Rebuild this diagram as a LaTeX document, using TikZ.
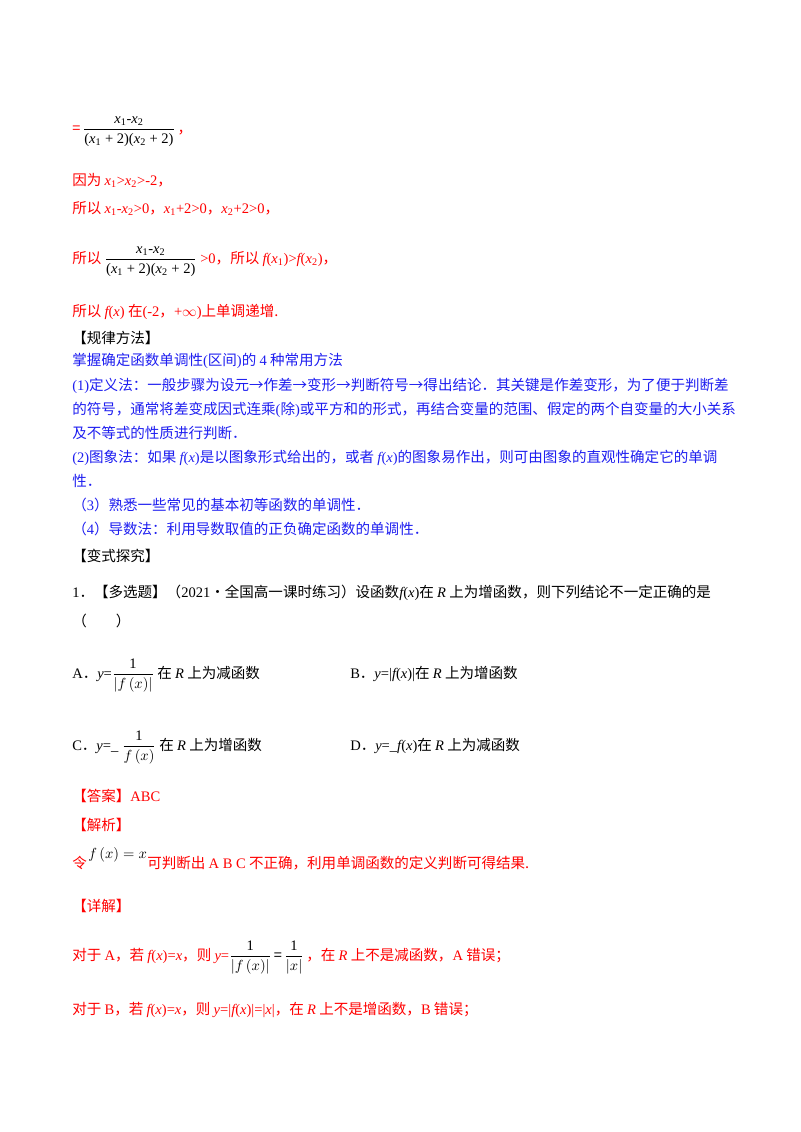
\documentclass[tikz,border=0pt]{standalone}
\usepackage{amsmath}
\usepackage{fontspec}
\setmainfont{Liberation Serif}
\newfontfamily\cjk{Noto Sans CJK SC}
\newcommand\mi[1]{{\rmfamily\itshape #1}}
\newcommand\rr[1]{{\rmfamily #1}}
\definecolor{myred}{RGB}{255,0,0}
\definecolor{myblue}{RGB}{30,30,240}
\tikzset{txt/.style={anchor=base west,inner sep=0pt,font=\cjk\fontsize{10.9}{12}\selectfont},
 rd/.style={txt,text=myred}, bl/.style={txt,text=myblue}, bk/.style={txt,text=black}}
\newcommand\fr[2]{$\dfrac{\text{\rmfamily #1}}{\text{\rmfamily #2}}$}
\begin{document}
\begin{tikzpicture}[x=0.75pt,y=-0.75pt]
\useasboundingbox (0,0) rectangle (800,1132);
\node[rd] (l1) at (72,133) {=\,{\color{black}\fr{\mi{x}\textsubscript{1}-\mi{x}\textsubscript{2}}{(\mi{x}\textsubscript{1} + 2)(\mi{x}\textsubscript{2} + 2)}}\,，};
\node[rd] (l2) at (72,185) {因为 \mi{x}\rr{\textsubscript{1}>}\mi{x}\rr{\textsubscript{2}>-2}，};
\node[rd] (l3) at (72,213) {所以 \mi{x}\rr{\textsubscript{1}-}\mi{x}\rr{\textsubscript{2}>0}，\mi{x}\rr{\textsubscript{1}+2>0}，\mi{x}\rr{\textsubscript{2}+2>0}，};
\node[rd] (l4) at (72,263) {所以 {\color{black}\fr{\mi{x}\textsubscript{1}-\mi{x}\textsubscript{2}}{(\mi{x}\textsubscript{1} + 2)(\mi{x}\textsubscript{2} + 2)}} \rr{>0}，所以 \mi{f}\rr{(}\mi{x}\rr{\textsubscript{1})>}\mi{f}\rr{(}\mi{x}\rr{\textsubscript{2})}，};
\node[rd] (l5) at (72,316) {所以 \mi{f}\rr{(}\mi{x}\rr{)} 在\rr{(-2}，\rr{+$\infty$)}上单调递增.};
\node[bk] (h1) at (72,343) {【规律方法】};
\node[bl] (b1) at (72,365) {掌握确定函数单调性\rr{(}区间\rr{)}的 \rr{4} 种常用方法};
\node[bl] (b2) at (72,390) {\rr{(1)}定义法：一般步骤为设元→作差→变形→判断符号→得出结论．其关键是作差变形，为了便于判断差};
\node[bl] (b2b) at (72,414) {的符号，通常将差变成因式连乘\rr{(}除\rr{)}或平方和的形式，再结合变量的范围、假定的两个自变量的大小关系};
\node[bl] (b2c) at (72,438) {及不等式的性质进行判断．};
\node[bl] (b3) at (72,462) {\rr{(2)}图象法：如果 \mi{f}\rr{(}\mi{x}\rr{)}是以图象形式给出的，或者 \mi{f}\rr{(}\mi{x}\rr{)}的图象易作出，则可由图象的直观性确定它的单调};
\node[bl] (b4) at (72,486) {性．};
\node[bl] (b5) at (72,510) {（\rr{3}）熟悉一些常见的基本初等函数的单调性．};
\node[bl] (b6) at (72,534) {（\rr{4}）导数法：利用导数取值的正负确定函数的单调性．};
\node[bk] (h2) at (72,561) {【变式探究】};
\node[bk] (q1) at (72,597) {\rr{1}．【多选题】（\rr{2021}·全国高一课时练习）设函数\mi{f}\rr{(}\mi{x}\rr{)}在 \mi{R} 上为增函数，则下列结论不一定正确的是};
\node[bk] (q2) at (72,626) {（\qquad）};
\node[bk] (oA) at (72,678) {\rr{A}．\mi{y}\rr{=}\fr{1}{$|f\,(x)|$} 在 \mi{R} 上为减函数};
\node[bk] (oB) at (350,678) {\rr{B}．\mi{y}\rr{=|}\mi{f}\rr{(}\mi{x}\rr{)|}在 \mi{R} 上为增函数};
\node[bk] (oC) at (72,750) {\rr{C}．\mi{y}\rr{=\_\ }\fr{1}{$f\,(x)$} 在 \mi{R} 上为增函数};
\node[bk] (oD) at (350,750) {\rr{D}．\mi{y}\rr{=\_}\mi{f}\rr{(}\mi{x}\rr{)}在 \mi{R} 上为减函数};
\node[rd] (ans) at (72,801) {【答案】\rr{ABC}};
\node[rd] (jx) at (72,830) {【解析】};
\node[rd] (ling) at (72,868) {令};
\node[bk] (fx) at (88,858) {$f\,(x)=x$};
\node[rd] (kp) at (147,868) {可判断出 \rr{A B C} 不正确，利用单调函数的定义判断可得结果.};
\node[rd] (xj) at (72,911) {【详解】};
\node[rd] (dA) at (72,960) {对于 \rr{A}，若 \mi{f}\rr{(}\mi{x}\rr{)=}\mi{x}，则 \mi{y}\rr{=}{\color{black}\fr{1}{$|f\,(x)|$}\,=\,\fr{1}{$|x|$}}\,，在 \mi{R} 上不是减函数，\rr{A} 错误；};
\node[rd] (dB) at (72,1014) {对于 \rr{B}，若 \mi{f}\rr{(}\mi{x}\rr{)=}\mi{x}，则 \mi{y}\rr{=|}\mi{f}\rr{(}\mi{x}\rr{)|=|}\mi{x}\rr{|}，在 \mi{R} 上不是增函数，\rr{B} 错误；};
\end{tikzpicture}
\end{document}
